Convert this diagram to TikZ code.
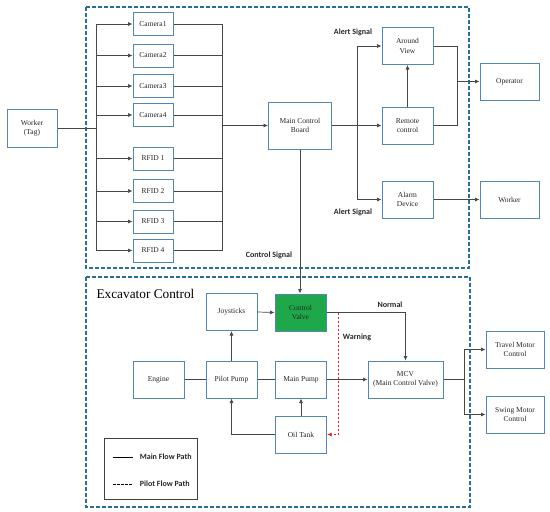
\documentclass[tikz,border=0pt]{standalone}
\usepackage{fontspec}
\setmainfont{Liberation Serif}
\newfontfamily\lblfont{Carlito}
\usepackage{tikz}
\usetikzlibrary{arrows.meta}
\definecolor{framebay}{RGB}{40,110,150}
\definecolor{boxblue}{RGB}{84,134,180}
\definecolor{valvegreen}{RGB}{30,168,74}
\definecolor{wiregray}{RGB}{70,70,70}
\definecolor{warnred}{RGB}{225,30,30}

\begin{document}
\begin{tikzpicture}[x=1pt, y=-1pt,
  unit/.style={draw=boxblue, line width=1pt, fill=white, align=center, inner sep=1pt,
    minimum width=51pt, minimum height=37pt, font=\fontsize{7.5}{9.5}\selectfont, text=black!85},
  small/.style={unit, minimum width=40pt, minimum height=23pt},
  frame/.style={draw=framebay, line width=1.4pt, dash pattern=on 4pt off 2pt},
  link/.style={wiregray, line width=0.7pt},
  sig/.style={-{Latex[length=4.5pt, width=4pt]}, wiregray, line width=0.7pt},
  warnmsg/.style={-{Latex[length=4.5pt, width=4pt]}, warnred, line width=0.9pt, dash pattern=on 2.5pt off 1.5pt},
  lbl/.style={font=\lblfont\bfseries\fontsize{8}{9}\selectfont, text=black!85}
]
\useasboundingbox (0,0) rectangle (550,512);

% frames
\draw[frame] (86,7) rectangle (469,268);
\draw[frame] (86,277) rectangle (470,507);

% detection side
\node[unit, minimum width=50pt, minimum height=38pt] (worker) at (32,128) {Worker\\(Tag)};
\foreach \n/\y in {1/24,2/55.5,3/86,4/115}
  \node[small] (cam\n) at (153,\y) {Camera\n};
\foreach \n/\y in {1/158.5,2/191,3/221.5,4/250.5}
  \node[small] (rfid\n) at (153,\y) {RFID \n};
\node[unit, minimum width=63pt, minimum height=47pt] (mcb) at (300,125.5) {Main Control\\Board};

\coordinate (lbus) at (96,0);
\coordinate (rbus) at (222,0);
\draw[link] (worker.east) -- (lbus |- worker.east);
\draw[link] (lbus |- cam1.west) -- (lbus |- rfid4.west);
\draw[link] (rbus |- cam1.east) -- (rbus |- rfid4.east);
\foreach \b in {cam1,cam2,cam3,cam4,rfid1,rfid2,rfid3,rfid4} {
  \draw[sig] (lbus |- \b.west) -- (\b.west);
  \draw[link] (\b.east) -- (rbus |- \b.east);
}
\draw[sig] (rbus |- mcb.west) -- (mcb.west);

% alert side
\node[unit] (around) at (407.5,46) {Around\\View};
\node[unit] (remote) at (407.5,125.5) {Remote\\control};
\node[unit] (alarm) at (407.5,199.5) {Alarm\\Device};
\node[unit, minimum width=59pt] (operator) at (509.5,81.5) {Operator};
\node[unit, minimum width=59pt] (workerout) at (509.5,199.5) {Worker};

\coordinate (abus) at (357,0);
\coordinate (obus) at (457,0);
\draw[sig] (mcb.east) -- (remote.west);
\draw[link] (abus |- around.west) -- (abus |- alarm.west);
\draw[sig] (abus |- around.west) -- (around.west);
\draw[sig] (abus |- alarm.west) -- (alarm.west);
\draw[sig] (remote.north) -- (around.south);
\draw[link] (around.east) -- (obus |- around.east) -- (obus |- remote.east) -- (remote.east);
\draw[sig] (obus |- operator.west) -- (operator.west);
\draw[sig] (alarm.east) -- (workerout.west);

\node[lbl] (alerttop) at (353,32) {Alert Signal};
\node[lbl] (alertbot) at (353,212) {Alert Signal};
\node[lbl] (ctrlsig) at (269,255) {Control Signal};

% excavator control
\node[anchor=west, font=\fontsize{13.3}{15}\selectfont] (title) at (93,294) {Excavator Control};
\node[unit] (joy) at (231.5,312) {Joysticks};
\node[unit, fill=valvegreen] (cvalve) at (300.5,312.5) {Control\\Valve};
\node[unit] (engine) at (158.5,379.5) {Engine};
\node[unit] (ppump) at (231.5,379.5) {Pilot Pump};
\node[unit] (mpump) at (301,379.5) {Main Pump};
\node[unit] (tank) at (301,434.5) {Oil Tank};
\node[unit, minimum width=75pt] (mcv) at (405.5,379.5) {MCV\\(Main Control Valve)};
\node[unit, minimum width=58pt] (travel) at (515,349.5) {Travel Motor\\Control};
\node[unit, minimum width=58pt] (swing) at (515,414.5) {Swing Motor\\Control};

\draw[sig] (mcb.south) -- (mcb.south |- cvalve.north);
\draw[link] (engine.east) -- (ppump.west);
\draw[link] (ppump.east) -- (mpump.west);
\draw[sig] (ppump.north) -- (joy.south);
\draw[sig] (joy.east) -- (cvalve.west);
\draw[sig] (tank.north) -- (mpump.south);
\draw[sig] (tank.west) -| (ppump.south);
\draw[sig] (mpump.east) -- (mcv.west);
\draw[sig] (cvalve.east) -| (mcv.north);
\coordinate (wtap) at (338,312.5);
\draw[warnmsg] (wtap) |- (tank.east);
\coordinate (mbus) at (464,0);
\draw[link] (mcv.east) -- (mbus |- mcv.east);
\draw[link] (mbus |- travel.west) -- (mbus |- swing.west);
\draw[sig] (mbus |- travel.west) -- (travel.west);
\draw[sig] (mbus |- swing.west) -- (swing.west);

\node[lbl] (normal) at (390,305) {Normal};
\node[lbl] (warning) at (357,337) {Warning};

% legend
\draw[black!75, line width=0.9pt] (104,438) rectangle (197,499);
\coordinate (mainl) at (113,457);
\coordinate (pilotl) at (113,484);
\draw[black, line width=1pt] (mainl) -- ++(20,0) node[lbl, anchor=west, xshift=3pt] (mainlbl) {Main Flow Path};
\draw[black, line width=1pt, dash pattern=on 2.5pt off 1.5pt] (pilotl) -- ++(20,0) node[lbl, anchor=west, xshift=3pt] (pilotlbl) {Pilot Flow Path};
\end{tikzpicture}
\end{document}
